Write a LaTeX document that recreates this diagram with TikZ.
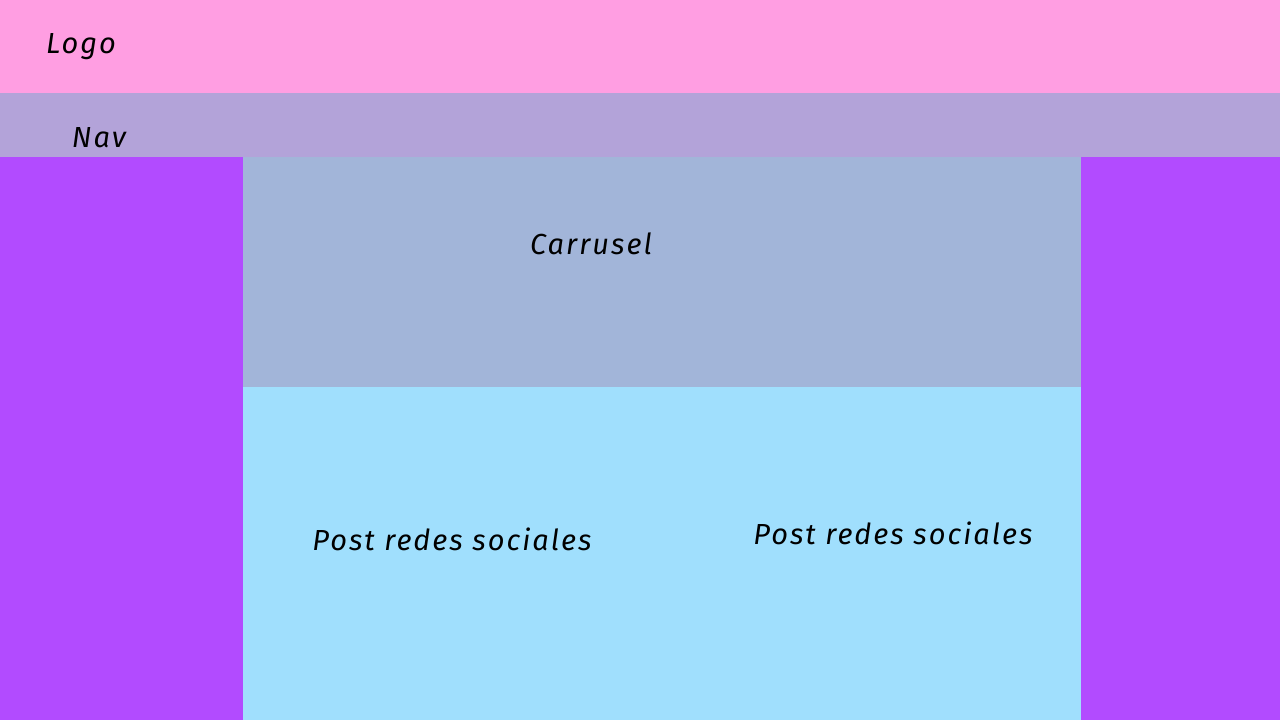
\documentclass[tikz,border=0pt]{standalone}
\usepackage{fontspec}
\setmainfont{Fira Sans}[LetterSpace=7]
\begin{document}
\begin{tikzpicture}[x=1pt,y=-1pt,
  lbl/.style={inner sep=0pt, font=\fontsize{29}{32}\selectfont\itshape, text=black}]
\definecolor{cpink}{HTML}{FF9EE2}
\definecolor{cnav}{HTML}{B3A3D9}
\definecolor{cpurple}{HTML}{B24BFF}
\definecolor{ccar}{HTML}{A2B5D9}
\definecolor{cpost}{HTML}{A0DFFD}
\useasboundingbox (0,0) rectangle (1280,720);
\fill[cpink] (0,0) rectangle (1280,93);
\fill[cnav] (0,93) rectangle (1280,157);
\fill[cpurple] (0,157) rectangle (1280,720);
\fill[ccar] (243,157) rectangle (1081,387);
\fill[cpost] (243,387) rectangle (1081,720);
\node[lbl] (logo) at (81,47) {Logo};
\node[lbl] (nav) at (99,138) {Nav};
\node[lbl] (car) at (591,244) {Carrusel};
\node[lbl] (post1) at (452,539) {Post redes sociales};
\node[lbl] (post2) at (893,533) {Post redes sociales};
\end{tikzpicture}
\end{document}
